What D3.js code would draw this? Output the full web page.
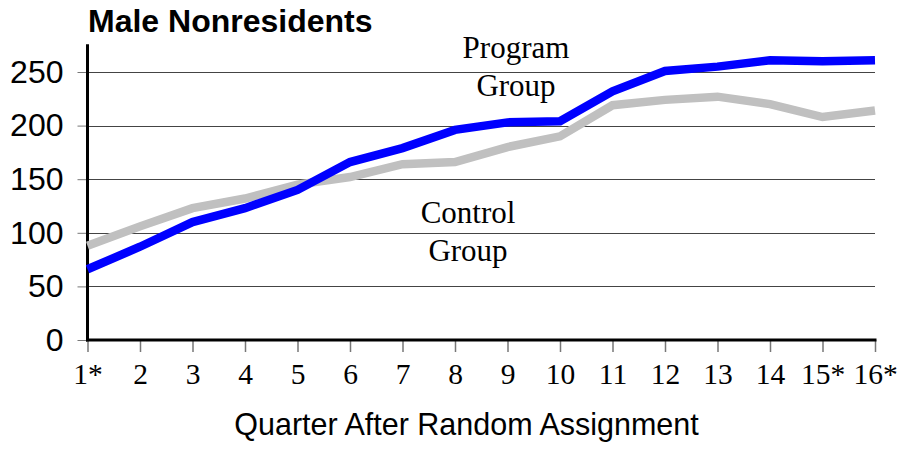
<!DOCTYPE html>
<html>
<head>
<meta charset="utf-8">
<script src="https://cdn.jsdelivr.net/npm/d3@7"></script>
<style>
  html, body { margin: 0; padding: 0; background: #fff; }
  svg { display: block; }
</style>
</head>
<body>
<svg id="chart" width="900" height="455"></svg>
<script>
// Quarterly earnings, male nonresidents
const quarters = [1, 2, 3, 4, 5, 6, 7, 8, 9, 10, 11, 12, 13, 14, 15, 16];
const quarterLabels = ["1*", "2", "3", "4", "5", "6", "7", "8", "9", "10", "11", "12", "13", "14", "15*", "16*"];
const programGroup = [66, 87, 110, 123, 140, 166, 179, 196, 203, 204, 232, 251, 255, 261, 260, 261];
const controlGroup = [88, 106, 123, 132, 145, 152, 164, 166, 180, 190, 219, 224, 227, 220, 208, 214];
const yTicks = [0, 50, 100, 150, 200, 250];

const svg = d3.select("#chart");
const sans = "Arial, 'Liberation Sans', sans-serif";
const serif = "'Times New Roman', 'Liberation Serif', serif";

const x = d3.scaleLinear().domain([1, 16]).range([87.5, 875]);
const y = d3.scaleLinear().domain([0, 250]).range([340, 72]);
const yTop = 276;

// Title
svg.append("text")
  .attr("x", 88).attr("y", 32)
  .attr("font-family", sans).attr("font-weight", "bold").attr("font-size", 32)
  .attr("fill", "#000")
  .text("Male Nonresidents");

// Horizontal gridlines
svg.append("g").selectAll("line")
  .data(yTicks.filter(d => d > 0))
  .join("line")
  .attr("x1", x(1)).attr("x2", x(16))
  .attr("y1", d => Math.round(y(d)) + 0.5).attr("y2", d => Math.round(y(d)) + 0.5)
  .attr("stroke", "#444").attr("stroke-width", 1);

// Y axis
const yAxis = svg.append("g")
  .attr("transform", `translate(${x(1)},0)`)
  .call(d3.axisLeft(y).tickValues(yTicks).tickSize(10).tickPadding(14).tickFormat(d3.format("d")));
yAxis.select(".domain").remove();
yAxis.selectAll(".tick line").attr("stroke", "#777").attr("stroke-width", 1);
yAxis.selectAll(".tick text")
  .attr("font-family", sans).attr("font-size", 32).attr("fill", "#000");
svg.append("line")
  .attr("x1", x(1)).attr("x2", x(1))
  .attr("y1", y(yTop)).attr("y2", y(0) + 1.5)
  .attr("stroke", "#000").attr("stroke-width", 3);

// X axis
const xAxis = svg.append("g")
  .attr("transform", `translate(0,${y(0)})`)
  .call(d3.axisBottom(x).tickValues(quarters).tickSize(12).tickPadding(6)
    .tickFormat((d, i) => quarterLabels[i]));
xAxis.select(".domain").remove();
xAxis.selectAll(".tick line").attr("stroke", "#777").attr("stroke-width", 1.5);
xAxis.selectAll(".tick text")
  .attr("font-family", serif).attr("font-size", 29.5).attr("fill", "#000")
  .attr("dy", "0.88em");
svg.append("line")
  .attr("x1", x(1) - 1.5).attr("x2", x(16) + 1.5)
  .attr("y1", y(0)).attr("y2", y(0))
  .attr("stroke", "#000").attr("stroke-width", 3);

// Axis title
svg.append("text")
  .attr("x", 466.5).attr("y", 435)
  .attr("text-anchor", "middle")
  .attr("font-family", sans).attr("font-size", 30.5).attr("fill", "#000")
  .text("Quarter After Random Assignment");

// Series lines
const line = d3.line().x((d, i) => x(quarters[i])).y(d => y(d));
svg.append("path")
  .datum(controlGroup)
  .attr("d", line)
  .attr("fill", "none").attr("stroke", "#c0c0c0").attr("stroke-width", 8.5)
  .attr("stroke-linejoin", "miter");
svg.append("path")
  .datum(programGroup)
  .attr("d", line)
  .attr("fill", "none").attr("stroke", "#0000ff").attr("stroke-width", 8.5)
  .attr("stroke-linejoin", "miter");

// Series labels
const labels = [
  { lines: ["Program", "Group"], cx: 516, y0: 58 },
  { lines: ["Control", "Group"], cx: 468, y0: 223 }
];
labels.forEach(l => {
  l.lines.forEach((t, i) => {
    svg.append("text")
      .attr("x", l.cx).attr("y", l.y0 + i * 38)
      .attr("text-anchor", "middle")
      .attr("font-family", serif).attr("font-size", 31).attr("fill", "#000")
      .text(t);
  });
});
</script>
</body>
</html>
